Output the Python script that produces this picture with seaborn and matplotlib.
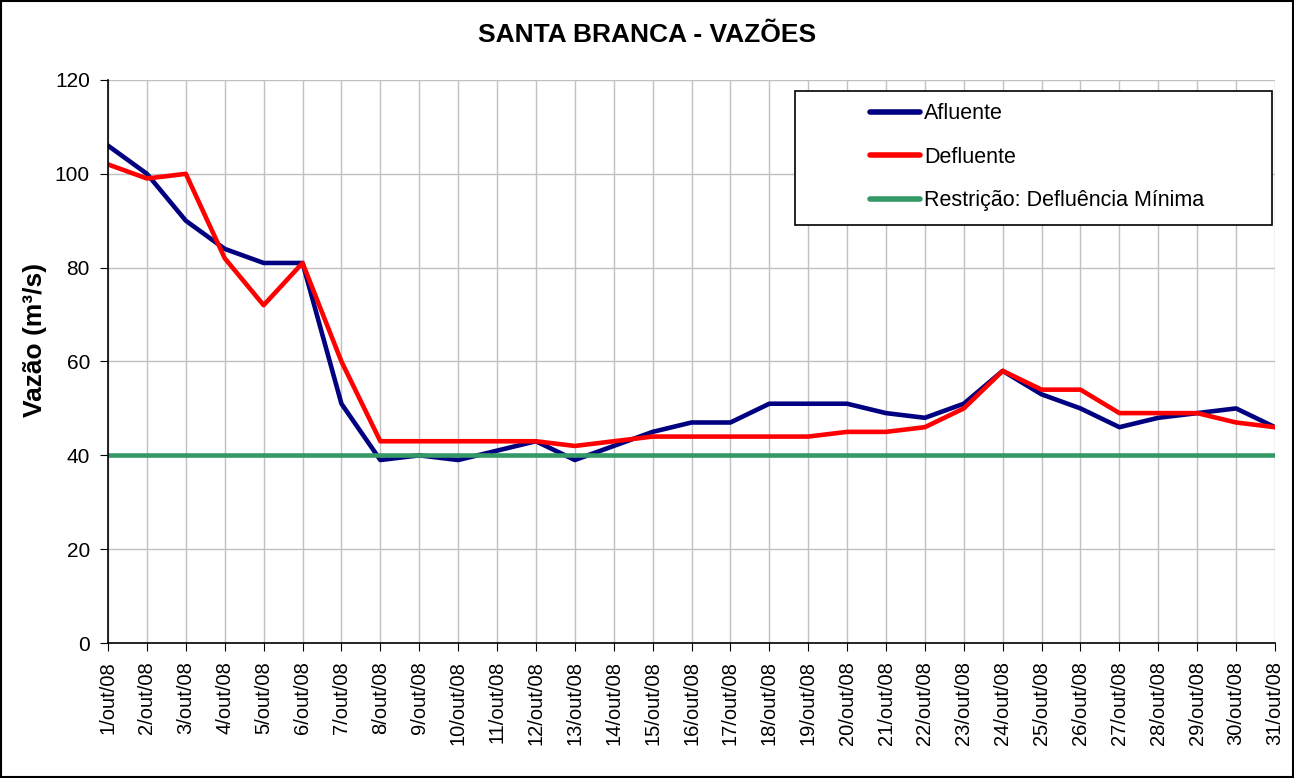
import numpy as np
import pandas as pd
import seaborn as sns
import matplotlib.pyplot as plt

sns.set_style("white")
plt.rcParams['font.family'] = ['Liberation Sans', 'DejaVu Sans']
plt.rcParams['text.color'] = 'black'
plt.rcParams['xtick.color'] = 'black'
plt.rcParams['ytick.color'] = 'black'
plt.rcParams['axes.labelcolor'] = 'black'

dias = [f'{d}/out/08' for d in range(1, 32)]
afluente = [106, 100, 90, 84, 81, 81, 51, 39, 40, 39, 41, 43, 39, 42, 45, 47,
            47, 51, 51, 51, 49, 48, 51, 58, 53, 50, 46, 48, 49, 50, 46]
defluente = [102, 99, 100, 82, 72, 81, 60, 43, 43, 43, 43, 43, 42, 43, 44, 44,
             44, 44, 44, 45, 45, 46, 50, 58, 54, 54, 49, 49, 49, 47, 46]
restricao = [40] * 31

df = pd.DataFrame({'x': np.arange(31), 'Afluente': afluente,
                   'Defluente': defluente,
                   'Restrição: Defluência Mínima': restricao})
long = df.melt(id_vars='x', var_name='serie', value_name='vazao')

f = plt.figure(figsize=(12.94, 7.78), dpi=100)
ax = f.add_axes([0.0835, 0.1735, 0.9018, 0.7237])

cores = {'Afluente': '#000080', 'Defluente': '#FF0000',
         'Restrição: Defluência Mínima': '#339966'}
sns.lineplot(data=long, x='x', y='vazao', hue='serie', palette=cores,
             linewidth=3.3, ax=ax)

ax.set(xlim=(0, 30), ylim=(0, 120))
ax.set_xticks(np.arange(31))
ax.set_xticklabels(dias, rotation=90, fontsize=14.5)
ax.set_yticks(np.arange(0, 121, 20))
ax.tick_params(axis='y', labelsize=15, length=6, direction='out', left=True,
               pad=7)
ax.tick_params(axis='x', length=6, direction='out', bottom=True, pad=7)
ax.grid(True, color='#c0c0c0', linewidth=1)
ax.set_axisbelow(True)
for s in ['top', 'right']:
    ax.spines[s].set_visible(False)
for s in ['left', 'bottom']:
    ax.spines[s].set_color('black')
    ax.spines[s].set_linewidth(1.2)

ax.set_xlabel('')
ax.set_ylabel('Vazão (m³/s)', fontsize=19, fontweight='bold')
ax.yaxis.set_label_coords(-0.052, 0.538)
f.suptitle('SANTA BRANCA - VAZÕES', fontsize=19, fontweight='bold', y=0.97)

# legend box drawn separately so the entries sit inset like the original
ax.add_patch(plt.Rectangle((0.5887, 0.7425), 0.4087, 0.2375,
                           transform=ax.transAxes, facecolor='white',
                           edgecolor='black', linewidth=1.2, zorder=4.5))
leg = ax.legend(loc='upper left', bbox_to_anchor=(0.653, 0.959),
                fontsize=15.5, frameon=False, title=None,
                borderpad=0, labelspacing=1.05, handlelength=2.3,
                handletextpad=0.2, borderaxespad=0)
for line in leg.get_lines():
    line.set_linewidth(4)
    line.set_solid_capstyle('round')

f.patches.append(plt.Rectangle((0.001, 0.001), 0.998, 0.998,
                               transform=f.transFigure, fill=False,
                               edgecolor='black', linewidth=1.5))
f.savefig('out.png', dpi=100)
